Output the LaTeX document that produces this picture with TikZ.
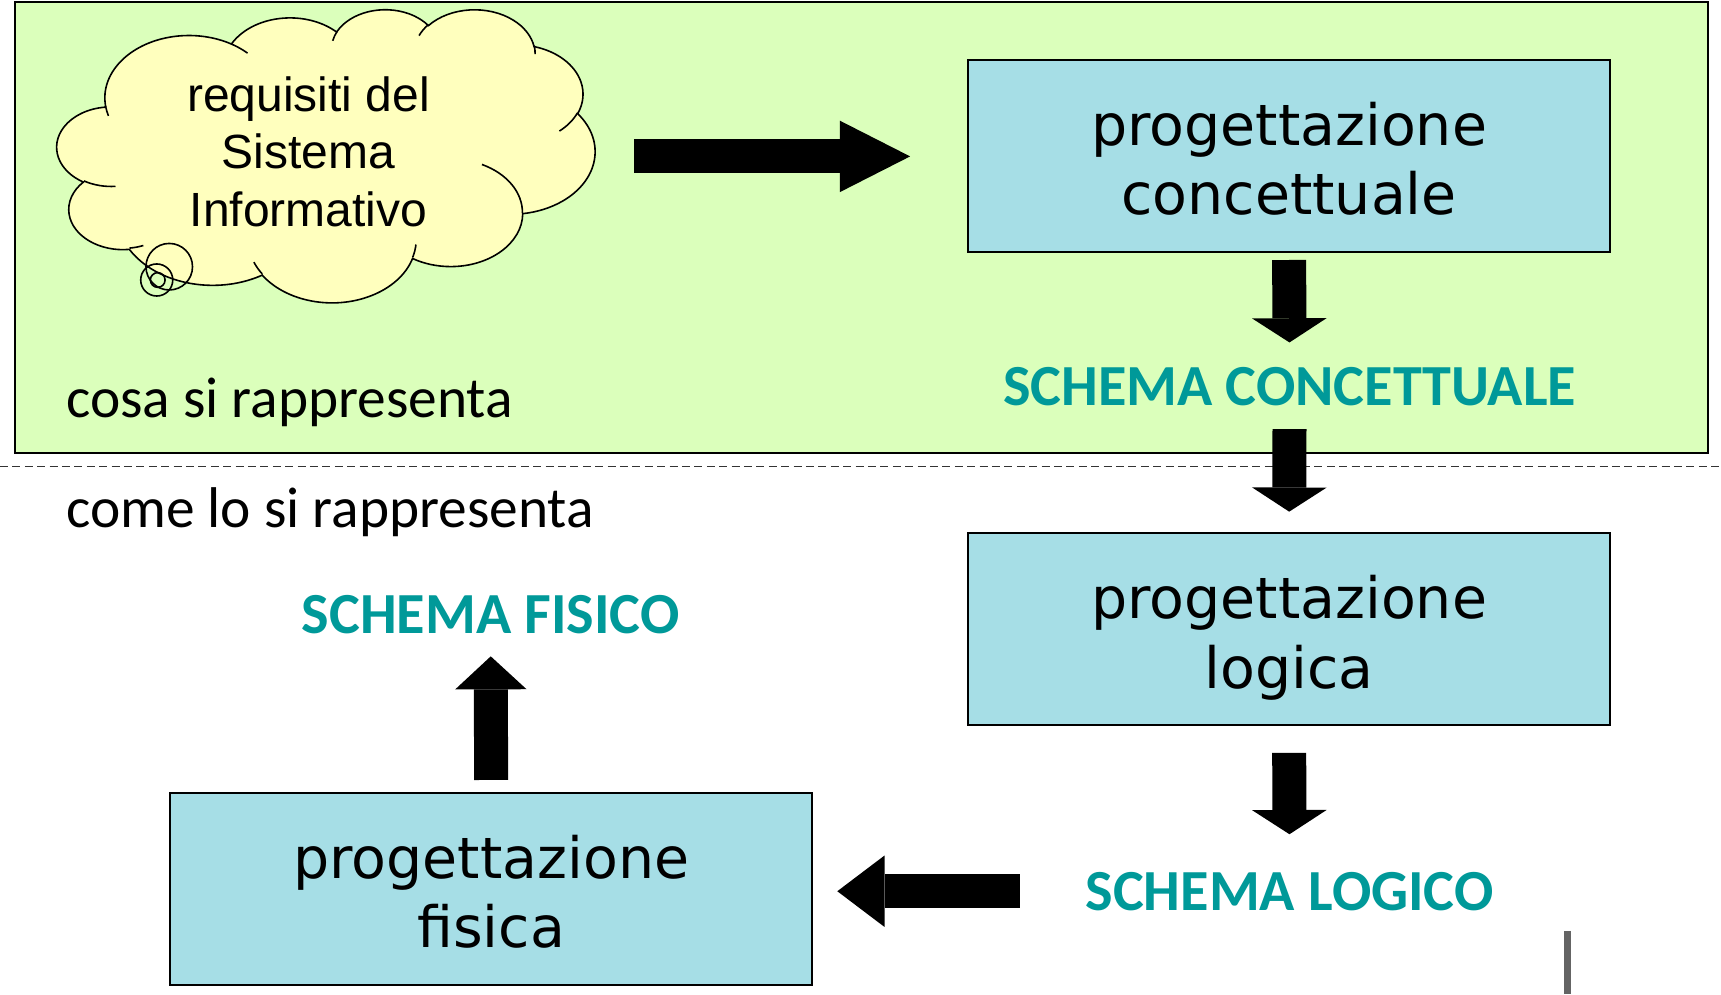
\documentclass[tikz,border=0pt]{standalone}
\usepackage{fontspec}
\setmainfont{Carlito}
\newfontfamily\dejavu{DejaVu Sans}
\newfontfamily\arialf{Liberation Sans}
\usetikzlibrary{arrows.meta}
\definecolor{bggreen}{RGB}{219,255,187}
\definecolor{cloudy}{RGB}{255,255,190}
\definecolor{boxblue}{RGB}{166,222,230}
\definecolor{tealtxt}{RGB}{0,153,153}
\definecolor{grayline}{RGB}{100,100,100}
\newcommand\ooprep[4]{%
  \pgfmathsetmacro\ootmpa{atan2((#1)*sin(#3),(#2)*cos(#3))}%
  \pgfmathsetmacro\ootmpb{atan2((#1)*sin((#3)+(#4)),(#2)*cos((#3)+(#4)))}%
  \pgfmathsetmacro\ootmpd{\ootmpb-\ootmpa}%
  \pgfmathsetmacro\ootmpd{(\ootmpd<0) ? (\ootmpd+360) : \ootmpd}%
  \xdef\OOa{\ootmpa}\xdef\OOd{\ootmpd}\xdef\OOrx{#1}\xdef\OOry{#2}%
}
\newcommand\OA[4]{\pgfextra{\ooprep{#1}{#2}{#3}{#4}} arc[start angle=\OOa, delta angle=\OOd, x radius=\OOrx, y radius=\OOry]}
\newcommand\boxtxt[2]{\rule{0pt}{32.4pt}#1\\#2\rule[-8.55pt]{0pt}{8.55pt}}
\tikzset{
  boxnode/.style={draw, line width=1pt, fill=boxblue, minimum width=321pt, minimum height=96pt, inner sep=0pt, align=center, font=\dejavu\fontsize{28.5}{34.7}\selectfont},
  schemanode/.style={text=tealtxt, font=\bfseries\fontsize{29.1}{34}\selectfont, inner sep=0pt},
  plaintext/.style={font=\fontsize{28.7}{34}\selectfont, inner sep=0pt},
  barrow/.style={draw=black, line width=17pt},
  harrow/.style={-{Triangle[width=35.7pt,length=35.1pt,line width=0pt]}},
  darrow/.style={-{Triangle[width=37.3pt,length=12.1pt,line width=0pt]}},
  larrow/.style={-{Triangle[width=35.7pt,length=23.6pt,line width=0pt]}},
  uarrow/.style={-{Triangle[width=35.7pt,length=16.5pt,line width=0pt]}}
}
\begin{document}
\begin{tikzpicture}[x=0.5488pt,y=-0.5488pt]
\useasboundingbox (0,0) rectangle (1568,906);
\fill[white] (0,0) rectangle (1568,906);
% green region
\draw[fill=bggreen, line width=0.9pt] (14,2) rectangle (1556,413);
% dashed separator
\draw[black!80, line width=0.6pt, dash pattern=on 4pt off 2.2pt] (0,425) -- (1568,425);
% cloud
\begin{scope}[shift={(52,8)}, xscale=490/432, yscale=267/432]
\filldraw[fill=cloudy, line width=0.8pt] (39.00,143.70)
  \OA{67.53}{91.90}{-190.4875}{123.7805}
  \OA{53.33}{72.67}{-144.1024}{89.9452}
  \OA{43.65}{59.45}{-145.8079}{99.7230}
  \OA{48.57}{65.95}{-130.9861}{117.2417}
  \OA{53.33}{72.73}{-78.7089}{109.0269}
  \OA{67.75}{92.20}{-46.2673}{130.2690}
  \OA{57.85}{78.67}{0.6250}{114.0333}
  \OA{67.52}{92.15}{22.4516}{115.1726}
  \OA{77.20}{105.43}{66.2426}{75.7110}
  \OA{43.60}{59.18}{-274.9421}{146.7356}
  \OA{43.45}{59.45}{-246.8285}{152.5189}
  -- cycle;
\draw[line width=0.8pt]
  (46.93,261.77) \OA{43.45}{59.45}{86.7420}{26.4295}
  (69.28,348.99) \OA{43.60}{59.18}{73.6105}{11.4475}
  (164.78,390.90) \OA{67.52}{92.15}{137.6242}{14.0811}
  (288.27,347.51) \OA{67.52}{92.15}{6.4533}{15.9984}
  (341.29,229.54) \OA{57.85}{78.67}{-70.2924}{70.9174}
  (417.98,153.54) \OA{53.33}{72.73}{30.3180}{27.7515}
  (383.24,54.26) \OA{48.57}{65.95}{-13.7443}{14.8589}
  (290.78,39.52) \OA{48.57}{65.95}{-149.1815}{18.1954}
  (221.41,47.20) \OA{43.65}{59.45}{-163.4943}{17.6864}
  (140.00,51.92) \OA{67.53}{91.90}{-66.7070}{12.3194}
  (41.27,157.89) \OA{67.53}{91.90}{157.6544}{11.8582};
\end{scope}
\draw[line width=0.8pt] (154.2,243) circle[radius=21.2];
\draw[line width=0.8pt] (142.8,255.1) circle[radius=14.6];
\draw[line width=0.8pt] (143.7,255.1) circle[radius=6.7];
\node[align=center, inner sep=0pt, font=\arialf\fontsize{24}{28.8}\selectfont] (req) at (281,138) {requisiti del\\Sistema\\Informativo};
\coordinate (cloudE) at (542,142.5);
% boxes
\node[boxnode] (box1) at (1174.5,142.5) {\boxtxt{progettazione}{concettuale}};
\node[boxnode] (box2) at (1174.5,573.5) {\boxtxt{progettazione}{logica}};
\node[boxnode] (box3) at (447.5,810) {\boxtxt{progettazione}{fisica}};
% schema labels
\node[schemanode] (sc) at (1175,352) {SCHEMA CONCETTUALE};
\node[schemanode] (sl) at (1175,812) {SCHEMA LOGICO};
\node[schemanode] (sf) at (447,560) {SCHEMA FISICO};
% side labels
\node[plaintext, anchor=base west] (cosa) at (60,380) {cosa si rappresenta};
\node[plaintext, anchor=base west] (come) at (60,481) {come lo si rappresenta};
% arrows
\draw[barrow, harrow, shorten <=19.76pt, shorten >=28.5pt] (cloudE) -- (box1.west);
\draw[barrow, darrow, shorten <=3.3pt, shorten >=21.95pt] (box1.south) -- (sc.center);
\draw[barrow, darrow, shorten <=21.4pt, shorten >=10.4pt] (sc.center) -- (box2.north);
\draw[barrow, darrow, shorten <=13.2pt, shorten >=28.5pt] (box2.south) -- (sl.center);
\draw[barrow, larrow, shorten <=135pt, shorten >=12.07pt] (sl.center) -- (sl.center -| box3.east);
\draw[barrow, uarrow, shorten <=6.04pt, shorten >=20.85pt] (box3.north) -- (sf.center);
% gray mark
\draw[grayline, line width=3.5pt] (1428,848) -- (1428,906);
\end{tikzpicture}
\end{document}
